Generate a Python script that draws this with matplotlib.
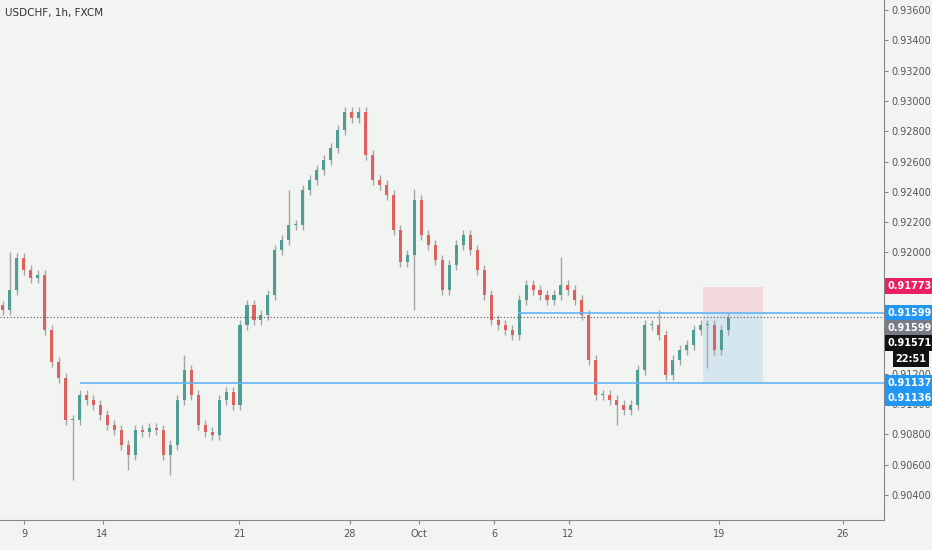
import numpy as np
import matplotlib.pyplot as plt
from matplotlib.patches import Rectangle

closes = [0.91620, 0.91752, 0.91963, 0.91884, 0.91831, 0.91851, 0.91488, 0.91277, 0.91171, 0.90894,
          0.90894, 0.91059, 0.91026, 0.90993, 0.90927, 0.90861, 0.90828, 0.90729, 0.90663, 0.90828,
          0.90815, 0.90841, 0.90828, 0.90663, 0.90729, 0.91026, 0.91224, 0.91059, 0.90861, 0.90815,
          0.90795, 0.91026, 0.91079, 0.90993, 0.91521, 0.91653, 0.91554, 0.91587, 0.91719, 0.92016,
          0.92082, 0.92181, 0.92181, 0.92412, 0.92478, 0.92544, 0.92610, 0.92689, 0.92808, 0.92927,
          0.92887, 0.92927, 0.92643, 0.92478, 0.92445, 0.92379, 0.92148, 0.91937, 0.91983, 0.92346,
          0.92115, 0.92049, 0.91950, 0.91752, 0.91917, 0.92049, 0.92115, 0.92016, 0.91884, 0.91719,
          0.91554, 0.91521, 0.91488, 0.91455, 0.91686, 0.91785, 0.91752, 0.91719, 0.91686, 0.91719,
          0.91785, 0.91752, 0.91686, 0.91587, 0.91290, 0.91059, 0.91059, 0.91026, 0.90993, 0.90960,
          0.90993, 0.91224, 0.91521, 0.91521, 0.91455, 0.91191, 0.91290, 0.91356, 0.91389, 0.91488,
          0.91521, 0.91521, 0.91356, 0.91488, 0.91567]
first_open = 0.91650
spike_high = {1: 0.92003, 26: 0.91323, 41: 0.92412, 59: 0.92420, 80: 0.91970, 94: 0.91620}
spike_low = {10: 0.90498, 18: 0.90564, 24: 0.90531, 59: 0.91620, 88: 0.90861, 101: 0.91237}
wick = 0.00030

tick_pos = [3.1, 14.3, 33.9, 49.7, 59.7, 70.4, 81.1, 102.6, 120.4]
tick_lab = ["9", "14", "21", "28", "Oct", "6", "12", "19", "26"]

resistance = 0.91599
support = 0.91137
stop = 0.91773
last = 0.91571

bg = "#f2f4f1"
up_col, dn_col, wick_col = "#4f9e96", "#e0605e", "#a3a6a8"
blue = "#2196f3"

fig = plt.figure(figsize=(9.32, 5.5), dpi=100, facecolor=bg)
ax = fig.add_axes([0, 30 / 550, 884 / 932, 520 / 550], facecolor=bg)

opens = [first_open] + closes[:-1]
for i, (o, c) in enumerate(zip(opens, closes)):
    hi = spike_high.get(i, max(o, c) + wick)
    lo = spike_low.get(i, min(o, c) - wick)
    ax.vlines(i, lo, hi, color=wick_col, lw=1.0, zorder=2)
    col = up_col if c >= o else dn_col
    ax.add_patch(Rectangle((i - 0.22, min(o, c)), 0.44, max(abs(c - o), 0.00004),
                           color=col, zorder=3, lw=0))

# trade box
ax.add_patch(Rectangle((100.3, resistance), 8.6, stop - resistance, color="#f2d3da", alpha=0.8, zorder=1, lw=0))
ax.add_patch(Rectangle((100.3, support), 8.6, resistance - support, color="#d3e5ef", alpha=0.9, zorder=1, lw=0))

ax.hlines(resistance, 73.9, 127, color="#64b5f6", lw=1.2, zorder=4)
ax.hlines(support, 11.0, 127, color="#64b5f6", lw=1.2, zorder=4)
ax.axhline(last, color="#555555", lw=0.8, ls=(0, (1, 2)), zorder=4)

ax.set_xlim(-0.4, 126.3)
ax.set_ylim(0.90234, 0.93666)

ax.yaxis.tick_right()
yt = np.arange(0.904, 0.9361, 0.002)
ax.set_yticks(yt)
ax.set_yticklabels([f"{v:.5f}" for v in yt])
ax.set_xticks(tick_pos)
ax.set_xticklabels(tick_lab)
ax.tick_params(axis="both", colors="#888888", labelcolor="#555555", labelsize=7, length=3)
ax.tick_params(axis="y", pad=2)
for s in ["top", "left"]:
    ax.spines[s].set_visible(False)
ax.spines["right"].set_color("#888888")
ax.spines["bottom"].set_color("#888888")

# right-side price labels
tags = [("0.91773", 0.91778, "#e91e63"), ("0.91599", 0.91600, blue), ("0.91599", 0.91501, "#787b86"),
        ("0.91571", 0.91402, "#111111"), ("0.91137", 0.91138, blue), ("0.91136", 0.91039, blue)]
for txt, y, col in tags:
    ax.text(1.004, y, txt, transform=ax.get_yaxis_transform(), va="center", ha="left",
            fontsize=7, color="white", fontweight="bold",
            bbox=dict(boxstyle="square,pad=0.3", fc=col, ec="none"), clip_on=False, zorder=10)
ax.text(1.013, 0.91297, "22:51", transform=ax.get_yaxis_transform(), va="center", ha="left",
        fontsize=7, color="white", fontweight="bold",
        bbox=dict(boxstyle="square,pad=0.3", fc="#111111", ec="none"), clip_on=False, zorder=10)

fig.text(5 / 932, 1 - 13 / 550, "USDCHF, 1h, FXCM", fontsize=7.5, color="#333333", va="center")

fig.savefig("out.png", dpi=100, facecolor=bg)
